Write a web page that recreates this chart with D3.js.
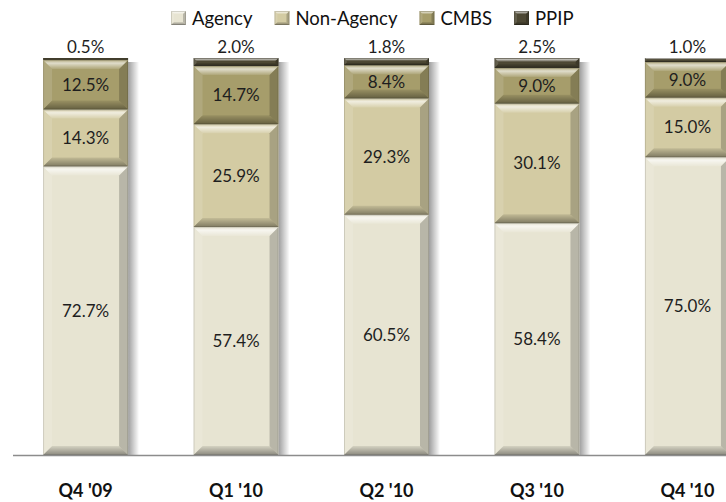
<!DOCTYPE html>
<html>
<head>
<meta charset="utf-8">
<script src="https://cdn.jsdelivr.net/npm/d3@7/dist/d3.min.js"></script>
<style>
  html,body{margin:0;padding:0;background:#fff;overflow:hidden}
  svg{display:block}
</style>
</head>
<body>
<div id="chart"></div>
<script>
const categories = ["Q4 '09","Q1 '10","Q2 '10","Q3 '10","Q4 '10"];
const seriesNames = ["Agency","Non-Agency","CMBS","PPIP"];
const agency    = [72.7, 57.4, 60.5, 58.4, 75.0];
const nonAgency = [14.3, 25.9, 29.3, 30.1, 15.0];
const cmbs      = [12.5, 14.7,  8.4,  9.0,  9.0];
const ppip      = [ 0.5,  2.0,  1.8,  2.5,  1.0];
const colors    = ["#e7e4d2", "#d3cba3", "#a69d6b", "#4d4834"];

const W = 726, H = 502;
const FONT = "Lato, Carlito, 'Open Sans', sans-serif";

const rows = categories.map((c,i)=>({cat:c, Agency:agency[i], "Non-Agency":nonAgency[i], CMBS:cmbs[i], PPIP:ppip[i]}));
const stacked = d3.stack().keys(seriesNames)(rows);

const svg = d3.select('#chart').append('svg').attr('width',W).attr('height',H);

const x = d3.scaleBand().domain(categories).range([13, 760]).paddingInner(0.435).paddingOuter(0.2);
const y = d3.scaleLinear().domain([0,100]).range([455, 58]);

const defs = svg.append('defs');
const shade = defs.append('linearGradient').attr('id','shade');
shade.append('stop').attr('offset','0').attr('stop-color','#000').attr('stop-opacity',.38);
shade.append('stop').attr('offset','1').attr('stop-color','#000').attr('stop-opacity',0);
const topG = defs.append('linearGradient').attr('id','topHi').attr('x1',0).attr('y1',0).attr('x2',0).attr('y2',1);
topG.append('stop').attr('offset','0').attr('stop-color','#fff').attr('stop-opacity',.15);
topG.append('stop').attr('offset','.35').attr('stop-color','#fff').attr('stop-opacity',.65);
topG.append('stop').attr('offset','1').attr('stop-color','#fff').attr('stop-opacity',.1);
const botG = defs.append('linearGradient').attr('id','botSh').attr('x1',0).attr('y1',0).attr('x2',0).attr('y2',1);
botG.append('stop').attr('offset','0').attr('stop-color','#000').attr('stop-opacity',.08);
botG.append('stop').attr('offset','1').attr('stop-color','#000').attr('stop-opacity',.4);

// bevelled block (looks like the Excel "soft bevel" shape effect)
function bevel(g, bx, by, bw, bh, fill, b){
  b = Math.min(b, bh/2.6, bw/3);
  const P = pts => pts.map(p=>p.join(',')).join(' ');
  g.append('rect').attr('x',bx).attr('y',by).attr('width',bw).attr('height',bh).attr('fill',fill);
  if(bh < 3) {
    g.append('rect').attr('x',bx).attr('y',by).attr('width',bw).attr('height',bh).attr('fill','#000').attr('opacity',.15);
    return;
  }
  g.append('polygon').attr('points',P([[bx,by],[bx+bw,by],[bx+bw-b,by+b],[bx+b,by+b]])).attr('fill','url(#topHi)');
  g.append('polygon').attr('points',P([[bx,by],[bx+b,by+b],[bx+b,by+bh-b],[bx,by+bh]])).attr('fill','#fff').attr('opacity',.12);
  g.append('polygon').attr('points',P([[bx+bw,by],[bx+bw-b,by+b],[bx+bw-b,by+bh-b],[bx+bw,by+bh]])).attr('fill','#000').attr('opacity',.2);
  g.append('polygon').attr('points',P([[bx,by+bh],[bx+b,by+bh-b],[bx+bw-b,by+bh-b],[bx+bw,by+bh]])).attr('fill','url(#botSh)');
  g.append('rect').attr('x',bx+.5).attr('y',by+.5).attr('width',bw-1).attr('height',bh-1)
    .attr('fill','none').attr('stroke','#000').attr('stroke-opacity',.12);
}

// bar shadows
categories.forEach(c=>{
  svg.append('rect').attr('x',x(c)+x.bandwidth()).attr('y',y(100)+4)
    .attr('width',11).attr('height',y(0)-y(100)-4).attr('fill','url(#shade)');
});

// segments
const bars = svg.append('g');
stacked.forEach((s,si)=>{
  s.forEach(d=>{
    const bx = x(d.data.cat), by = y(d[1]), bh = y(d[0]) - y(d[1]);
    bevel(bars, bx, by, x.bandwidth(), bh, colors[si], 9);
  });
});

// axis line
svg.append('line').attr('x1',13).attr('x2',W).attr('y1',455.5).attr('y2',455.5)
  .attr('stroke','#8c8c8c').attr('stroke-width',1.5);

// data labels
stacked.forEach((s,si)=>{
  s.forEach(d=>{
    const v = d[1]-d[0];
    const cx = x(d.data.cat) + x.bandwidth()/2;
    const cy = si===3 ? y(d[1]) - 5 : (y(d[0])+y(d[1]))/2 + 6;
    svg.append('text').attr('x',cx).attr('y',cy).attr('text-anchor','middle')
      .attr('font-family',FONT).attr('font-size','17px').attr('fill','#1e1e1e')
      .text(v.toFixed(1)+'%');
  });
});

// category labels
categories.forEach(c=>{
  svg.append('text').attr('x',x(c)+x.bandwidth()/2).attr('y',497).attr('text-anchor','middle')
    .attr('font-family',FONT).attr('font-size','18px').attr('font-weight','700').attr('fill','#111')
    .text(c);
});

// legend
const leg = svg.append('g');
let lx = 171;
seriesNames.forEach((n,i)=>{
  const g = leg.append('g');
  bevel(g, lx, 11, 15, 14, colors[i], 3);
  const t = g.append('text').attr('x',lx+21).attr('y',25)
    .attr('font-family',FONT).attr('font-size','18.5px').attr('fill','#111').text(n);
  lx += 21 + t.node().getComputedTextLength() + 22;
});
</script>
</body>
</html>
